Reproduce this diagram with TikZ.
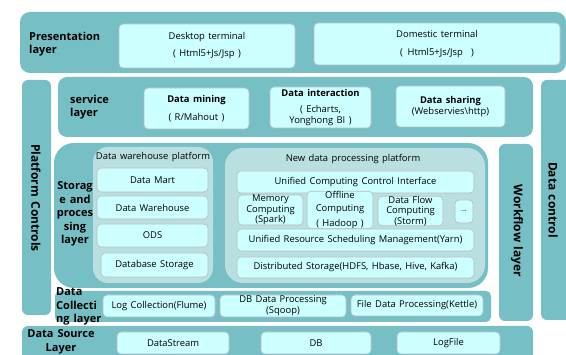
\documentclass[tikz,border=0pt]{standalone}
\usepackage{fontspec}
\setmainfont{Open Sans}[WordSpace=1.4]
\definecolor{band}{HTML}{76BFC5}
\definecolor{cont}{HTML}{BADFE1}
\definecolor{cell}{HTML}{CCFFFF}
\definecolor{cellline}{HTML}{BDBDBD}
\newcommand\placebox[7]{\node[#2,minimum width={(#5-#3)*1pt},minimum height={(#6-#4)*1pt}] (#1) at ({(#3+#5)/2},{(#4+#6)/2}) {#7};}
\begin{document}
\begin{tikzpicture}[x=1pt,y=-1pt,
  bandbox/.style={fill=band,draw=none,rounded corners=#1,inner sep=0pt,outer sep=0pt},
  contbox/.style={fill=cont,draw=none,rounded corners=#1,inner sep=0pt,outer sep=0pt},
  cellbox/.style={fill=cell,draw=cellline,line width=0.7pt,rounded corners=4pt,inner sep=0pt,outer sep=0pt,align=center,font=\fontsize{9.4}{11}\selectfont},
  labeltext/.style={font=\bfseries\fontsize{11}{13.5}\selectfont,inner sep=0pt},
  sidetext/.style={font=\bfseries\fontsize{12}{14}\selectfont,rotate=-90,inner sep=0pt},
  titletext/.style={font=\fontsize{9.4}{11}\selectfont,inner sep=0pt}
]
\useasboundingbox (0,0) rectangle (566,355);
\clip (0,0) rectangle (566,355);
% bands
\placebox{pres}{bandbox=10pt}{20}{12}{566}{73}{}
\placebox{serv}{bandbox=9pt}{58}{77}{533}{137}{}
\placebox{plat}{bandbox=6pt}{22}{80}{51}{315}{}
\placebox{dctl}{bandbox=6pt}{541}{80}{574}{320}{}
\placebox{wflow}{bandbox=6pt}{499}{144}{533}{321}{}
\placebox{stor}{bandbox=20pt}{54}{143}{488}{288}{}
\placebox{coll}{bandbox=5pt}{55}{291}{491}{322}{}
\placebox{src}{bandbox=6pt}{22}{326}{533}{364}{}
% containers
\placebox{dwp}{contbox=15pt}{93}{147}{213}{283}{}
\placebox{ndp}{contbox=18pt}{225}{148}{485}{283}{}
% presentation
\placebox{desk}{cellbox}{119}{24}{295}{68}{Desktop terminal\\[6pt]( Html5+Js/Jsp )}
\placebox{dom}{cellbox}{314}{23}{560}{65}{Domestic terminal\\[7pt](\enspace Html5+Js/Jsp\enspace\ )}
% service
\placebox{mine}{cellbox}{144}{88}{249}{129}{{\bfseries Data mining}\\[7pt]( R/Mahout )}
\placebox{inter}{cellbox}{270}{87}{371}{128}{{\bfseries Data interaction}\\[5pt]( Echarts,\\Yonghong BI )}
\placebox{share}{cellbox}{396}{86}{505}{127}{{\bfseries Data sharing}\\(Webservies\textbackslash http)}
% data warehouse
\placebox{mart}{cellbox}{97}{168}{208}{192}{Data Mart}
\placebox{wh}{cellbox}{97}{196}{208}{219}{Data Warehouse}
\placebox{ods}{cellbox}{97}{224}{208}{247}{ODS}
\placebox{dbs}{cellbox}{101}{253}{208}{277}{Database Storage}
% new data processing
\placebox{uci}{cellbox}{237}{171}{474}{193}{Unified Computing Control Interface}
\placebox{mem}{cellbox}{238}{197}{303}{223}{Memory\\[-0.5pt]Computing\\[-0.5pt](Spark)}
\placebox{off}{cellbox}{307}{197}{373}{223}{Offline\\[2pt]Computing\\[4pt]( Hadoop )}
\placebox{flow}{cellbox}{378}{199}{443}{223}{Data Flow\\[-0.5pt]Computing\\[-0.5pt](Storm)}
\placebox{dots}{cellbox}{455}{200}{473}{223}{\fontsize{7}{8}\selectfont ...}
\placebox{yarn}{cellbox}{237}{229}{474}{251}{Unified Resource Scheduling Management(Yarn)}
\placebox{dist}{cellbox}{237}{257}{474}{278}{Distributed Storage(HDFS, Hbase, Hive, Kafka)}
% collecting
\placebox{log}{cellbox}{103}{295}{215}{317}{Log Collection(Flume)}
\placebox{sqoop}{cellbox}{220}{295}{346}{317}{DB Data Processing\\[0pt](Sqoop)}
\placebox{kettle}{cellbox}{351}{295}{483}{316}{File Data Processing(Kettle)}
% source
\placebox{stream}{cellbox}{117}{332}{229}{354}{DataStream}
\placebox{db}{cellbox}{261}{332}{371}{354}{DB}
\placebox{logfile}{cellbox}{397}{332}{500}{354}{LogFile}
% titles
\node[titletext] (dwpt) at (153,157) {Data warehouse platform};
\node[titletext] (ndpt) at (353,159) {New data processing platform};
% labels
\node[labeltext,anchor=west,align=left] (presl) at (29,44) {Presentation\\layer};
\node[labeltext,anchor=west,align=left] (servl) at (70,107) {service\\layer};
\node[labeltext,align=center] (storl) at (75,214) {Storag\\e and\\proces\\sing\\layer};
\node[labeltext,anchor=west,align=left] (colll) at (56,306.5) {Data\\Collecti\\ng layer};
\node[labeltext,align=center] (srcl) at (61,342) {Data Source\\Layer};
\node[sidetext] (platl) at (36,198) {Platform Controls};
\node[sidetext] (dctll) at (553,200) {Data control};
\node[sidetext] (wflowl) at (517,231) {Workflow layer};
\end{tikzpicture}
\end{document}
